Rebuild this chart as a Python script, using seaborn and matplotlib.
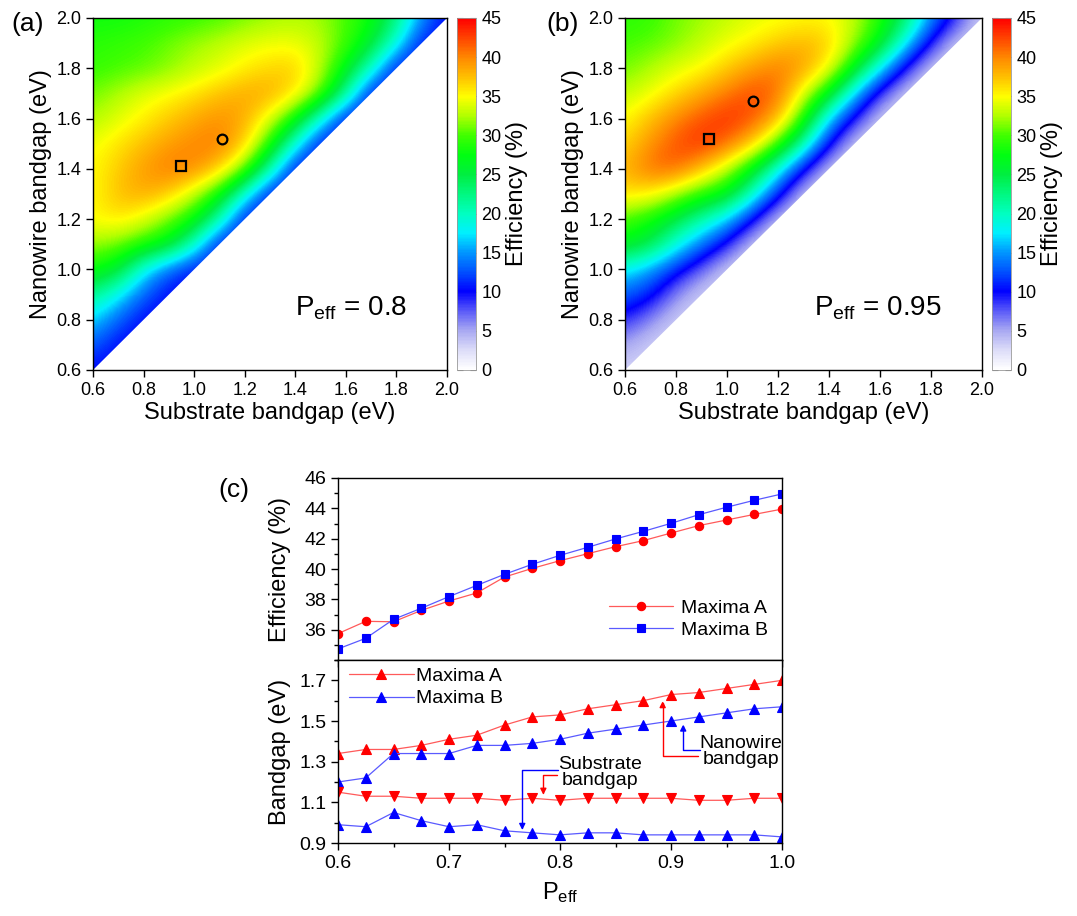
import numpy as np
import pandas as pd
import matplotlib
matplotlib.use("Agg")
import matplotlib.pyplot as plt
import seaborn as sns
from matplotlib.colors import LinearSegmentedColormap, Normalize
from matplotlib.cm import ScalarMappable
from matplotlib.patches import Polygon
from matplotlib.ticker import MultipleLocator

# ---------------- data ----------------
# bandgap grid (eV) for panels (a) and (b)
gap_axis = [0.6, 0.7, 0.8, 0.9, 1.0, 1.1, 1.2, 1.3, 1.4, 1.5, 1.6, 1.7, 1.8, 1.9, 2.0]

# efficiency (%) rows: nanowire gap = gap_axis[k], substrate gap 0.6 .. nanowire gap
eff_a_rows = [
    [10],
    [13, 10],
    [17, 13, 10],
    [22, 18, 13, 10],
    [28, 26, 18, 13, 10],
    [32, 31, 29, 27, 20, 10],
    [35, 36, 34, 31, 28, 21, 10],
    [35, 37.5, 38.5, 37, 33, 28, 19, 10],
    [35, 37, 39, 40.5, 40, 37, 31, 21, 10],
    [34.5, 36, 37.5, 39, 40, 40.5, 37, 29, 19, 10],
    [32.5, 34, 35.5, 37, 38.5, 39.5, 38.5, 34, 28, 19, 10],
    [31, 32.5, 34, 35, 36, 37.5, 38.5, 38.5, 36, 31, 22, 10],
    [29.5, 30, 30.5, 31.5, 33, 34, 35.5, 36.5, 37, 33, 27, 20, 10],
    [29, 29.5, 30, 31, 32, 33, 34, 34.5, 34.5, 33, 30, 26, 19, 10],
    [28, 28, 28.5, 29, 29.5, 30, 31, 32, 32.5, 32, 30, 28, 23, 15, 10],
]
eff_b_rows = [
    [3],
    [5, 3],
    [9, 6, 3],
    [13, 11, 6, 3],
    [18, 15, 11, 7, 3],
    [27, 25, 19, 14, 9, 3],
    [30, 28, 25, 21, 17, 10, 3],
    [36, 35.5, 32, 29, 27, 20, 11, 3],
    [38, 41, 41.5, 37.5, 33, 27, 19, 10, 3],
    [36.5, 39.5, 42, 43.5, 41, 37, 30, 21, 10, 3],
    [35, 37.5, 40, 42, 43.5, 42, 38, 29, 17, 9, 3],
    [33, 34.5, 36.5, 38.5, 40.5, 42.5, 41, 34, 27, 17, 8, 3],
    [31, 32.5, 34, 35, 37, 39, 40.5, 39, 35, 27, 18, 9, 3],
    [30, 30.5, 31.5, 33, 34.5, 35.5, 37, 38, 37, 32, 27, 18, 9, 3],
    [29, 29.5, 31, 32, 33, 34, 34.5, 35, 35, 33, 29, 24, 15, 9, 3],
]

# maxima markers on the maps (substrate, nanowire)
max_a_circle = [1.11, 1.52]
max_a_square = [0.95, 1.41]
max_b_circle = [1.10, 1.67]
max_b_square = [0.93, 1.52]

# panel (c)
peff = [0.6, 0.625, 0.65, 0.675, 0.7, 0.725, 0.75, 0.775, 0.8, 0.825,
        0.85, 0.875, 0.9, 0.925, 0.95, 0.975, 1.0]
eff_max_a = [35.74, 36.55, 36.52, 37.27, 37.89, 38.42, 39.47, 40.04, 40.55, 41.01,
             41.47, 41.87, 42.37, 42.86, 43.23, 43.60, 43.95]
eff_max_b = [34.73, 35.43, 36.68, 37.41, 38.18, 38.92, 39.65, 40.31, 40.90, 41.43,
             41.98, 42.48, 43.01, 43.58, 44.07, 44.53, 44.95]
nw_gap_a = [1.34, 1.36, 1.36, 1.38, 1.41, 1.43, 1.48, 1.52, 1.53, 1.56,
            1.58, 1.60, 1.63, 1.64, 1.66, 1.68, 1.70]
nw_gap_b = [1.20, 1.22, 1.34, 1.34, 1.34, 1.38, 1.38, 1.39, 1.41, 1.44,
            1.46, 1.48, 1.50, 1.52, 1.54, 1.56, 1.57]
sub_gap_a = [1.15, 1.13, 1.13, 1.12, 1.12, 1.12, 1.11, 1.12, 1.11, 1.12,
             1.12, 1.12, 1.12, 1.11, 1.11, 1.12, 1.12]
sub_gap_b = [0.99, 0.98, 1.05, 1.01, 0.98, 0.99, 0.96, 0.95, 0.94, 0.95,
             0.95, 0.94, 0.94, 0.94, 0.94, 0.94, 0.93]

cbar_ticks = [0, 5, 10, 15, 20, 25, 30, 35, 40, 45]
eff_ticks_c = [36, 38, 40, 42, 44, 46]
gap_ticks_c = [0.9, 1.1, 1.3, 1.5, 1.7]

# ---------------- style ----------------
sns.set_theme(style="ticks")
plt.rcParams["font.family"] = ["Liberation Sans", "DejaVu Sans"]
plt.rcParams["mathtext.fontset"] = "custom"
plt.rcParams["mathtext.rm"] = "Liberation Sans"
plt.rcParams["mathtext.it"] = "Liberation Sans:italic"
for k in ["axes.edgecolor", "xtick.color", "ytick.color", "text.color", "axes.labelcolor"]:
    plt.rcParams[k] = "black"
plt.rcParams["axes.linewidth"] = 1.0

cm_vals = [0, 2.5, 5, 7.5, 10, 12.5, 15, 17.5, 20, 22.5, 25, 27.5, 30, 32.5, 35, 37.5, 40, 42.5, 45]
cm_cols = ["#ffffff", "#dcdcf8", "#a8a8f2", "#5a5af8", "#0000ff", "#0050ff", "#0096ff",
           "#00f0ff", "#00ffc0", "#00f880", "#00ee40", "#00ff10", "#40ff00", "#b0ff00",
           "#ffff00", "#ffc000", "#ff8800", "#ff4400", "#ff0000"]
cmap = LinearSegmentedColormap.from_list("eff", list(zip([v / 45 for v in cm_vals], cm_cols)))
norm = Normalize(0, 45)

fig = plt.figure(figsize=(10.77, 9.16), dpi=100)
W, H = 1077, 916


def px_axes(l, t, r, b):
    return fig.add_axes([l / W, 1 - b / H, (r - l) / W, (b - t) / H])


def draw_map(ax, cax, rows, label, circ, sq, tx, ty):
    n = len(gap_axis)
    grid = np.zeros((n, n))
    for k, row in enumerate(rows):
        r = np.full(n, row[-1], dtype=float)
        r[:len(row)] = row
        grid[k] = r
    h = (gap_axis[1] - gap_axis[0]) / 2
    ext = (gap_axis[0] - h, gap_axis[-1] + h, gap_axis[0] - h, gap_axis[-1] + h)
    im = ax.imshow(grid, origin="lower", extent=ext, cmap=cmap, norm=norm,
                   interpolation="bicubic", interpolation_stage="data", aspect="auto")
    tri = Polygon([(gap_axis[0], gap_axis[0]), (gap_axis[-1], gap_axis[-1]),
                   (gap_axis[0], gap_axis[-1])], closed=True, transform=ax.transData)
    im.set_clip_path(tri)
    ax.set_xlim(0.6, 2.0)
    ax.set_ylim(0.6, 2.0)
    ax.set_xticks(np.arange(0.6, 2.01, 0.2))
    ax.set_yticks(np.arange(0.6, 2.01, 0.2))
    ax.xaxis.set_major_formatter("{x:.1f}")
    ax.yaxis.set_major_formatter("{x:.1f}")
    ax.tick_params(labelsize=13, length=5, width=1, direction="out")
    ax.set_xlabel("Substrate bandgap (eV)", fontsize=17, labelpad=2)
    ax.set_ylabel("Nanowire bandgap (eV)", fontsize=17, labelpad=3)
    ax.plot([circ[0]], [circ[1]], marker="o", ms=7, mfc="none", mec="black", mew=1.6)
    ax.plot([sq[0]], [sq[1]], marker="s", ms=6.5, mfc="none", mec="black", mew=1.6)
    ax.text(tx, ty, label, fontsize=20, ha="center", va="baseline")
    cb = fig.colorbar(ScalarMappable(norm=norm, cmap=cmap), cax=cax)
    cb.set_ticks(cbar_ticks)
    cb.ax.tick_params(direction="in", length=4, width=0.8, color="#777777",
                      labelsize=13, left=True, right=True, pad=4)
    cb.outline.set_linewidth(0.6)
    cb.outline.set_edgecolor("#999999")
    cb.set_label("Efficiency (%)", fontsize=17, labelpad=3)


ax_a = px_axes(93, 18, 447, 370)
cax_a = px_axes(457, 18, 476, 370)
draw_map(ax_a, cax_a, eff_a_rows, r"P$_\mathregular{eff}$ = 0.8", max_a_circle, max_a_square, 1.62, 0.815)

ax_b = px_axes(625, 18, 982, 370)
cax_b = px_axes(992, 18, 1011, 370)
draw_map(ax_b, cax_b, eff_b_rows, r"P$_\mathregular{eff}$ = 0.95", max_b_circle, max_b_square, 1.59, 0.815)

fig.text(28 / W, 1 - 24 / H, "(a)", fontsize=19, ha="center", va="center")
fig.text(563 / W, 1 - 24 / H, "(b)", fontsize=19, ha="center", va="center")
fig.text(234 / W, 1 - 490 / H, "(c)", fontsize=19, ha="center", va="center")

# ---------------- panel (c) ----------------
axt = px_axes(338, 478, 782, 660)
axb = px_axes(338, 660, 782, 843)

red_line = "#ff5a5a"
blue_line = "#5a5aff"
common = dict(linewidth=0.9, markeredgewidth=0.8)

sns.lineplot(x=peff, y=eff_max_a, ax=axt, color=red_line, marker="o", markersize=6,
             markerfacecolor="red", markeredgecolor="red", legend=False, **common)
h_a = axt.lines[-1]
sns.lineplot(x=peff, y=eff_max_b, ax=axt, color=blue_line, marker="s", markersize=5.5,
             markerfacecolor="blue", markeredgecolor="blue", legend=False, **common)
h_b = axt.lines[-1]
axt.legend([h_a, h_b], ["Maxima A", "Maxima B"], loc="center left",
           bbox_to_anchor=(0.57, 0.225), frameon=False, fontsize=14,
           handlelength=3.3, handletextpad=0.4, labelspacing=0.25)

sns.lineplot(x=peff, y=nw_gap_a, ax=axb, color=red_line, marker="^", markersize=6.5,
             markerfacecolor="red", markeredgecolor="red", legend=False, **common)
g_a = axb.lines[-1]
sns.lineplot(x=peff, y=nw_gap_b, ax=axb, color=blue_line, marker="^", markersize=6.5,
             markerfacecolor="blue", markeredgecolor="blue", legend=False, **common)
g_b = axb.lines[-1]
sns.lineplot(x=peff, y=sub_gap_a, ax=axb, color=red_line, marker="v", markersize=6.5,
             markerfacecolor="red", markeredgecolor="red", legend=False, **common)
sns.lineplot(x=peff, y=sub_gap_b, ax=axb, color=blue_line, marker="^", markersize=6.5,
             markerfacecolor="blue", markeredgecolor="blue", legend=False, **common)
axb.legend([g_a, g_b], ["Maxima A", "Maxima B"], loc="center left",
           bbox_to_anchor=(-0.005, 0.85), frameon=False, fontsize=14,
           handlelength=3.3, handletextpad=0.1, labelspacing=0.25, borderpad=0.2)

for ax in (axt, axb):
    ax.set_xlim(0.6, 1.0)
    ax.xaxis.set_major_locator(MultipleLocator(0.1))
    ax.xaxis.set_minor_locator(MultipleLocator(0.05))
    ax.tick_params(which="major", length=5, width=1, labelsize=14, direction="out")
    ax.tick_params(which="minor", length=3, width=1, direction="out")
    ax.yaxis.set_label_coords(-0.105, 0.5)

axt.set_ylim(34, 46)
axt.set_yticks(eff_ticks_c)
axt.yaxis.set_minor_locator(MultipleLocator(1))
axt.tick_params(axis="x", labelbottom=False)
axt.set_xlabel("")
axt.set_ylabel("Efficiency (%)", fontsize=17)

axb.set_ylim(0.9, 1.8)
axb.set_yticks(gap_ticks_c)
axb.yaxis.set_minor_locator(MultipleLocator(0.1))
axb.xaxis.set_major_formatter("{x:.1f}")
axb.yaxis.set_major_formatter("{x:.1f}")
axb.set_ylabel("Bandgap (eV)", fontsize=17)
axb.set_xlabel(r"P$_\mathregular{eff}$", fontsize=17, labelpad=6)

arrow_kw = dict(arrowstyle="-|>", connectionstyle="angle,angleA=0,angleB=90,rad=0",
                lw=1.0, shrinkA=0, shrinkB=0, mutation_scale=9)
axb.annotate("", xy=(0.8925, 1.598), xytext=(0.924, 1.330),
             arrowprops=dict(color="red", **arrow_kw))
axb.annotate("", xy=(0.911, 1.483), xytext=(0.926, 1.359),
             arrowprops=dict(color="blue", **arrow_kw))
axb.annotate("", xy=(0.766, 0.964), xytext=(0.798, 1.260),
             arrowprops=dict(color="blue", **arrow_kw))
axb.annotate("", xy=(0.785, 1.137), xytext=(0.797, 1.232),
             arrowprops=dict(color="red", **arrow_kw))
axb.text(0.963, 1.349, "Nanowire\nbandgap", fontsize=14, ha="center", va="center",
         linespacing=0.9)
axb.text(0.836, 1.246, "Substrate\nbandgap", fontsize=14, ha="center", va="center",
         linespacing=0.9)

fig.savefig("out.png", dpi=100)
